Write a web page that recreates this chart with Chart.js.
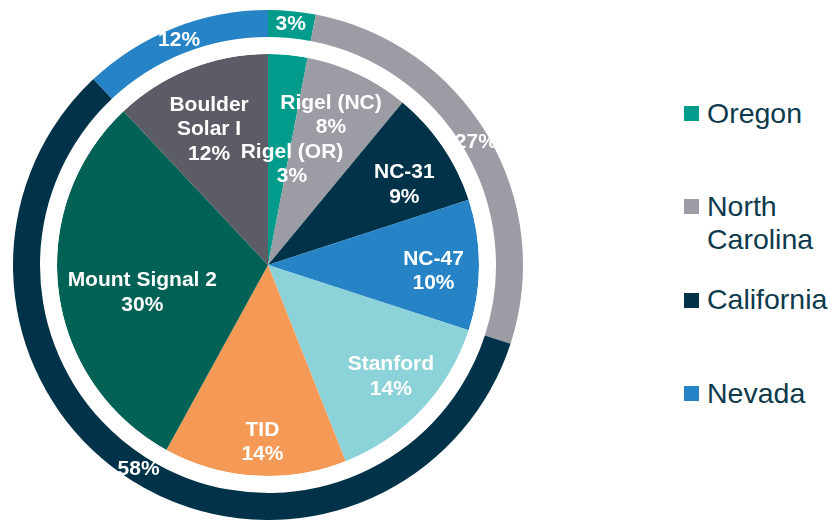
<!DOCTYPE html>
<html>
<head>
<meta charset="utf-8">
<script src="https://cdn.jsdelivr.net/npm/chart.js@4.4.1/dist/chart.umd.min.js"></script>
<style>
  body { margin: 0; background: #fff; width: 833px; height: 522px; overflow: hidden; position: relative;
         font-family: "Liberation Sans", Arial, sans-serif; }
  #wrap { position: absolute; left: 13px; top: 10px; width: 510px; height: 510px; }
  .item { position: absolute; left: 684px; width: 149px; font-size: 28.5px; line-height: 33px; color: #0d3a4c; }
  .item .box { position: absolute; left: 0; top: 9.5px; width: 15px; height: 15px; }
  .item .txt { margin-left: 23px; width: 125px; }
</style>
</head>
<body>
<div id="wrap"><canvas id="chart" width="510" height="510"></canvas></div>
<div id="legend"></div>
<script>
// inner pie: projects
var projects = ['Rigel (OR)', 'Rigel (NC)', 'NC-31', 'NC-47', 'Stanford', 'TID', 'Mount Signal 2', 'Boulder\nSolar I'];
var projectShares = [3, 8, 9, 10, 14, 14, 30, 12];
var projectColors = ['#009b8a', '#9b9ca4', '#003349', '#2684c6', '#8bd3d9', '#f59a56', '#006155', '#5b5c65'];

// outer ring: states
var states = ['Oregon', 'North Carolina', 'California', 'Nevada'];
var stateShares = [3, 27, 58, 12];
var stateColors = ['#009b8a', '#9b9ca4', '#003349', '#2684c6'];

// where the project labels sit: radius as a share of the pie, and a small turn in degrees
var labelRadius = [0.49, 0.77, 0.75, 0.785, 0.787, 0.84, 0.61, 0.70];
var labelShift = [8, -2.4, 3.7, 2.2, -0.9, -1.8, -5.2, -1.9];

var sliceText = {
    id: 'sliceText',
    afterDatasetsDraw: function (chart) {
        var ctx = chart.ctx;
        ctx.save();
        ctx.fillStyle = '#fff';
        ctx.font = 'bold 21px "Liberation Sans", Arial, sans-serif';
        ctx.textAlign = 'center';
        ctx.textBaseline = 'middle';

        // ring percentages
        chart.getDatasetMeta(0).data.forEach(function (arc, i) {
            var p = arc.getProps(['x', 'y', 'startAngle', 'endAngle', 'innerRadius', 'outerRadius'], true);
            var a = (p.startAngle + p.endAngle) / 2;
            var r = (p.innerRadius + p.outerRadius) / 2;
            ctx.fillText(stateShares[i] + '%', p.x + Math.cos(a) * r, p.y + Math.sin(a) * r);
        });

        // project names + percentages
        chart.getDatasetMeta(2).data.forEach(function (arc, i) {
            var p = arc.getProps(['x', 'y', 'startAngle', 'endAngle', 'outerRadius'], true);
            var a = (p.startAngle + p.endAngle) / 2 + labelShift[i] * Math.PI / 180;
            var r = p.outerRadius * labelRadius[i];
            var cx = p.x + Math.cos(a) * r;
            var cy = p.y + Math.sin(a) * r;
            var lines = projects[i].split('\n').concat(projectShares[i] + '%');
            var lh = 24.5;
            var y0 = cy - (lines.length - 1) * lh / 2;
            lines.forEach(function (t, j) {
                ctx.fillText(t, cx, y0 + j * lh);
            });
        });
        ctx.restore();
    }
};

var ctx = document.getElementById('chart').getContext('2d');
var myChart = new Chart(ctx, {
    type: 'doughnut',
    data: {
        labels: projects,
        datasets: [{
            data: stateShares,
            backgroundColor: stateColors,
            weight: 27
        }, {
            // white gap between ring and pie
            data: [100],
            backgroundColor: ['#ffffff'],
            weight: 17
        }, {
            data: projectShares,
            backgroundColor: projectColors,
            weight: 211
        }]
    },
    options: {
        responsive: false,
        animation: false,
        cutout: 0,
        radius: 255,
        borderWidth: 0,
        hoverOffset: 0,
        layout: { padding: 0 },
        plugins: {
            legend: { display: false },
            tooltip: { enabled: false }
        }
    },
    plugins: [sliceText]
});

// legend on the right
var legend = document.getElementById('legend');
states.forEach(function (name, i) {
    var item = document.createElement('div');
    item.className = 'item';
    item.style.top = (96.6 + i * 93.3) + 'px';
    var box = document.createElement('div');
    box.className = 'box';
    box.style.background = stateColors[i];
    var txt = document.createElement('div');
    txt.className = 'txt';
    txt.textContent = name;
    item.appendChild(box);
    item.appendChild(txt);
    legend.appendChild(item);
});
</script>
</body>
</html>
